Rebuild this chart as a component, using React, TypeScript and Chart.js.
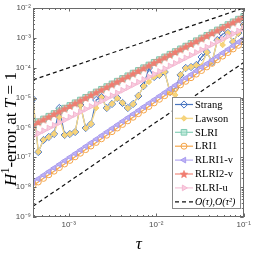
import React, { useEffect, useRef } from 'react';
import { Chart, registerables } from 'chart.js';
import { drawPoint } from 'chart.js/helpers';

Chart.register(...registerables);

// time steps tau (ascending)
const tau = [3.906e-4, 4.487e-4, 5.154e-4, 5.921e-4, 6.801e-4, 7.813e-4, 8.974e-4, 1.0309e-3, 1.1842e-3, 1.3602e-3,
  1.5625e-3, 1.7948e-3, 2.0617e-3, 2.3683e-3, 2.7205e-3, 3.125e-3, 3.5897e-3, 4.1235e-3, 4.7366e-3, 5.4409e-3,
  6.25e-3, 7.1794e-3, 8.2469e-3, 9.4732e-3, 1.08819e-2, 1.25e-2, 1.43587e-2, 1.64939e-2, 1.89465e-2, 2.17638e-2,
  2.5e-2, 2.87175e-2, 3.29877e-2, 3.78929e-2, 4.35275e-2, 5e-2, 5.74349e-2, 6.59754e-2, 7.57858e-2, 8.70551e-2, 0.1];

const strang = [8.96e-6, 1.50e-7, 3.79e-7, 4.79e-7, 6.03e-7, 4.48e-6, 5.58e-7, 6.03e-7, 7.03e-7, 5.64e-6,
  9.57e-7, 1.30e-6, 8.30e-6, 1.045e-5, 4.48e-6, 6.10e-6, 9.68e-6, 6.59e-6, 4.48e-6, 6.10e-6,
  1.13e-5, 2.44e-5, 9.80e-5, 4.89e-5, 5.70e-5, 7.19e-5, 1.54e-5, 2.09e-5, 5.70e-5, 9.80e-5,
  1.057e-4, 1.233e-4, 2.285e-4, 3.36e-4, 1.556e-4, 8.47e-4, 1.346e-3, 1.455e-3, 7.26e-4, 1.455e-3, 2.70e-3];

const lawson = [8.80e-6, 1.52e-7, 3.85e-7, 4.70e-7, 6.10e-7, 2.20e-6, 5.50e-7, 6.10e-7, 7.10e-7, 5.50e-6,
  9.40e-7, 1.32e-6, 4.50e-6, 1.02e-5, 4.40e-6, 6.20e-6, 9.50e-6, 6.70e-6, 4.40e-6, 6.00e-6,
  1.15e-5, 2.40e-5, 3.33e-5, 4.95e-5, 5.60e-5, 7.30e-5, 1.52e-5, 1.22e-5, 5.80e-5, 9.60e-5,
  1.07e-4, 1.21e-4, 1.14e-4, 3.30e-4, 1.58e-4, 8.30e-4, 5.77e-4, 1.43e-3, 7.40e-4, 1.43e-3, 2.65e-3];

const slri = [1.27e-6, 1.56e-6, 1.92e-6, 2.37e-6, 2.92e-6, 3.59e-6, 4.42e-6, 5.44e-6, 6.70e-6, 8.25e-6,
  1.016e-5, 1.250e-5, 1.539e-5, 1.895e-5, 2.333e-5, 2.873e-5, 3.537e-5, 4.354e-5, 5.360e-5, 6.600e-5,
  8.125e-5, 1.000e-4, 1.232e-4, 1.516e-4, 1.867e-4, 2.298e-4, 2.829e-4, 3.483e-4, 4.288e-4, 5.280e-4,
  6.500e-4, 8.003e-4, 9.852e-4, 1.213e-3, 1.493e-3, 1.838e-3, 2.263e-3, 2.787e-3, 3.431e-3, 4.224e-3, 5.20e-3];

const lri1 = [1.13e-8, 1.49e-8, 1.97e-8, 2.60e-8, 3.43e-8, 4.52e-8, 5.97e-8, 7.87e-8, 1.039e-7, 1.371e-7,
  1.809e-7, 2.387e-7, 3.150e-7, 4.157e-7, 5.484e-7, 7.236e-7, 9.55e-7, 1.260e-6, 1.662e-6, 2.193e-6,
  2.895e-6, 3.820e-6, 5.040e-6, 6.650e-6, 8.775e-6, 1.158e-5, 1.528e-5, 2.016e-5, 2.660e-5, 3.510e-5,
  4.631e-5, 6.111e-5, 8.065e-5, 1.064e-4, 1.404e-4, 1.853e-4, 2.445e-4, 3.225e-4, 4.256e-4, 5.616e-4, 7.41e-4];

const rlri1v = [1.45e-8, 1.91e-8, 2.52e-8, 3.33e-8, 4.39e-8, 5.80e-8, 7.65e-8, 1.01e-7, 1.33e-7, 1.76e-7,
  2.32e-7, 3.06e-7, 4.04e-7, 5.33e-7, 7.03e-7, 9.28e-7, 1.224e-6, 1.615e-6, 2.131e-6, 2.812e-6,
  3.711e-6, 4.897e-6, 6.461e-6, 8.525e-6, 1.125e-5, 1.484e-5, 1.959e-5, 2.585e-5, 3.41e-5, 4.50e-5,
  5.94e-5, 7.835e-5, 1.034e-4, 1.364e-4, 1.80e-4, 2.375e-4, 3.134e-4, 4.135e-4, 5.456e-4, 7.20e-4, 9.50e-4];

const rlri2v = [1.221e-6, 1.503e-6, 1.850e-6, 2.278e-6, 2.804e-6, 3.453e-6, 4.251e-6, 5.233e-6, 6.443e-6, 7.932e-6,
  9.766e-6, 1.2023e-5, 1.4802e-5, 1.8223e-5, 2.2435e-5, 2.762e-5, 3.4006e-5, 4.1866e-5, 5.1543e-5, 6.3457e-5,
  7.8125e-5, 9.618e-5, 1.1842e-4, 1.4578e-4, 1.7948e-4, 2.2097e-4, 2.7205e-4, 3.3493e-4, 4.1234e-4, 5.0766e-4,
  6.25e-4, 7.695e-4, 9.473e-4, 1.1663e-3, 1.4359e-3, 1.7678e-3, 2.1764e-3, 2.6795e-3, 3.2988e-3, 4.0613e-3, 5.0e-3];

const rlriu = [5.13e-7, 6.31e-7, 7.77e-7, 9.57e-7, 1.178e-6, 1.450e-6, 1.785e-6, 2.198e-6, 2.706e-6, 3.331e-6,
  4.102e-6, 5.050e-6, 6.217e-6, 7.654e-6, 9.423e-6, 1.160e-5, 1.428e-5, 1.758e-5, 2.165e-5, 2.665e-5,
  3.281e-5, 4.040e-5, 4.974e-5, 6.123e-5, 7.538e-5, 9.281e-5, 1.143e-4, 1.407e-4, 1.732e-4, 2.132e-4,
  2.625e-4, 3.232e-4, 3.979e-4, 4.898e-4, 6.031e-4, 7.425e-4, 9.141e-4, 1.1254e-3, 1.3855e-3, 1.7057e-3, 2.100e-3];

// reference slopes
const refTau = [3.906e-4, 0.1];
const refOrder1 = [3.9e-5, 1e-2];
const refOrder2 = [2.3e-9, 1.5e-4];

const xTickValues = [1e-3, 1e-2, 1e-1];
const xTickLabels = ['10⁻³', '10⁻²', '10⁻¹'];
const yTickValues = [1e-9, 1e-8, 1e-7, 1e-6, 1e-5, 1e-4, 1e-3, 1e-2];
const yTickLabels = ['10⁻⁹', '10⁻⁸', '10⁻⁷', '10⁻⁶', '10⁻⁵', '10⁻⁴', '10⁻³', '10⁻²'];

const seriesNames = ['Strang', 'Lawson', 'SLRI', 'LRI1', 'RLRI1-v', 'RLRI2-v', 'RLRI-u'];
const refName = 'O(τ),O(τ²)';

const AXIS = '#6a6a6a';
const TICK_TEXT = '#4a4a4a';
const SERIF = '"Liberation Serif", "Times New Roman", serif';

function makeStar(color: string, r: number): HTMLCanvasElement {
  const c = document.createElement('canvas');
  const size = Math.ceil(r * 2 + 2);
  c.width = size;
  c.height = size;
  const g = c.getContext('2d')!;
  g.beginPath();
  for (let i = 0; i < 10; i++) {
    const ang = -Math.PI / 2 + (i * Math.PI) / 5;
    const rr = i % 2 === 0 ? r : r * 0.45;
    const px = size / 2 + rr * Math.cos(ang);
    const py = size / 2 + rr * Math.sin(ang) + 0.4;
    if (i === 0) g.moveTo(px, py);
    else g.lineTo(px, py);
  }
  g.closePath();
  g.fillStyle = color;
  g.fill();
  g.strokeStyle = color;
  g.lineWidth = 0.6;
  g.stroke();
  return c;
}

const decorPlugin = {
  id: 'decor',
  afterDraw(chart: any) {
    const { ctx, chartArea: a, scales } = chart;
    const xs = scales.x;
    const ys = scales.y;
    ctx.save();
    // box
    ctx.strokeStyle = AXIS;
    ctx.lineWidth = 1;
    ctx.setLineDash([]);
    ctx.strokeRect(Math.round(a.left) + 0.5, Math.round(a.top) + 0.5, Math.round(a.right - a.left) - 1, Math.round(a.bottom - a.top) - 1);
    // ticks inside
    ctx.beginPath();
    for (let e = -4; e <= -1; e++) {
      for (let m = 1; m <= 9; m++) {
        const v = m * Math.pow(10, e);
        if (v < xs.min * 0.999 || v > xs.max * 1.001) continue;
        const px = Math.round(xs.getPixelForValue(v)) + 0.5;
        const len = m === 1 ? 3.5 : 2;
        ctx.moveTo(px, a.bottom);
        ctx.lineTo(px, a.bottom - len);
        ctx.moveTo(px, a.top);
        ctx.lineTo(px, a.top + len);
      }
    }
    for (let e = -9; e <= -2; e++) {
      for (let m = 1; m <= 9; m++) {
        const v = m * Math.pow(10, e);
        if (v < ys.min * 0.999 || v > ys.max * 1.001) continue;
        const py = Math.round(ys.getPixelForValue(v)) + 0.5;
        const len = m === 1 ? 3.5 : 2;
        ctx.moveTo(a.left, py);
        ctx.lineTo(a.left + len, py);
        ctx.moveTo(a.right, py);
        ctx.lineTo(a.right - len, py);
      }
    }
    ctx.stroke();

    // legend
    const lw = 69;
    const lh = 112;
    const lx = Math.round(a.right) - 72;
    const ly = Math.round(a.bottom) - 120;
    ctx.fillStyle = '#ffffff';
    ctx.fillRect(lx, ly, lw, lh);
    ctx.strokeStyle = '#8a8a8a';
    ctx.lineWidth = 1;
    ctx.strokeRect(lx + 0.5, ly + 0.5, lw - 1, lh - 1);
    const items = chart.data.datasets.filter((d: any) => d.inLegend !== false);
    items.sort((p: any, q: any) => p.legendIndex - q.legendIndex);
    items.forEach((d: any, i: number) => {
      const cy = ly + 7.5 + i * 13.9;
      ctx.save();
      ctx.strokeStyle = d.borderColor;
      ctx.lineWidth = d.borderWidth;
      ctx.setLineDash(d.borderDash || []);
      ctx.beginPath();
      ctx.moveTo(lx + 3, cy);
      ctx.lineTo(lx + 21, cy);
      ctx.stroke();
      ctx.setLineDash([]);
      if (d.pointRadius > 0) {
        ctx.fillStyle = d.pointBackgroundColor;
        ctx.strokeStyle = d.pointBorderColor;
        ctx.lineWidth = d.pointBorderWidth;
        drawPoint(ctx, { pointStyle: d.pointStyle, rotation: d.pointRotation || 0, radius: d.pointRadius, borderWidth: d.pointBorderWidth } as any, lx + 12, cy);
      }
      ctx.restore();
      ctx.fillStyle = '#000';
      ctx.font = (d.legendItalic ? 'italic 10px ' : '10.5px ') + SERIF;
      ctx.textAlign = 'left';
      ctx.textBaseline = 'middle';
      ctx.fillText(d.label, lx + 23, cy + 0.5);
    });

    // y title
    ctx.save();
    ctx.translate(10, 129);
    ctx.rotate(-Math.PI / 2);
    ctx.fillStyle = '#000';
    ctx.textBaseline = 'alphabetic';
    ctx.textAlign = 'left';
    const fs = 17;
    const segs = [
      { t: 'H', f: `italic ${fs}px ${SERIF}`, dy: 0 },
      { t: '1', f: `${Math.round(fs * 0.68)}px ${SERIF}`, dy: -fs * 0.42 },
      { t: '-error at ', f: `${fs}px ${SERIF}`, dy: 0 },
      { t: 'T', f: `italic ${fs}px ${SERIF}`, dy: 0 },
      { t: ' = 1', f: `${fs}px ${SERIF}`, dy: 0 },
    ];
    let total = 0;
    segs.forEach((s) => { ctx.font = s.f; total += ctx.measureText(s.t).width; });
    let cx = -total / 2;
    segs.forEach((s) => {
      ctx.font = s.f;
      ctx.fillText(s.t, cx, 6 + s.dy);
      cx += ctx.measureText(s.t).width;
    });
    ctx.restore();

    // x title
    ctx.fillStyle = '#000';
    ctx.font = `italic 17px ${SERIF}`;
    ctx.textAlign = 'center';
    ctx.textBaseline = 'alphabetic';
    ctx.fillText('τ', (a.left + a.right) / 2 + 0.5, 249);
    ctx.restore();
  },
};

function pts(ys: number[]) {
  return tau.map((t, i) => ({ x: t, y: ys[i] }));
}

export default function App() {
  const ref = useRef<HTMLCanvasElement>(null);
  useEffect(() => {
    const star = makeStar('#F07C70', 4);
    const base = { borderWidth: 1.2, tension: 0, fill: false, pointBorderWidth: 1 };
    const datasets: any[] = [
      { ...base, label: refName, legendItalic: true, legendIndex: 7, data: refTau.map((t, i) => ({ x: t, y: refOrder1[i] })), borderColor: '#111', borderDash: [4, 3], pointRadius: 0, order: 0 },
      { ...base, label: 'O(τ²)', inLegend: false, data: refTau.map((t, i) => ({ x: t, y: refOrder2[i] })), borderColor: '#111', borderDash: [4, 3], pointRadius: 0, order: 0 },
      { ...base, label: seriesNames[6], legendIndex: 6, data: pts(rlriu), borderColor: '#F7C3D8', pointStyle: 'triangle', pointRotation: 90, pointRadius: 3.3, pointBackgroundColor: '#F9CCDF', pointBorderColor: '#F4B8D1', order: 1 },
      { ...base, label: seriesNames[5], legendIndex: 5, data: pts(rlri2v), borderColor: '#F08A7E', pointStyle: star, pointRadius: 3.5, pointBackgroundColor: '#F07C70', pointBorderColor: '#F07C70', order: 2 },
      { ...base, label: seriesNames[4], legendIndex: 4, data: pts(rlri1v), borderColor: '#B5AAF3', pointStyle: 'triangle', pointRotation: -90, pointRadius: 3.3, pointBackgroundColor: '#BDB2F6', pointBorderColor: '#A99CEF', order: 3 },
      { ...base, label: seriesNames[3], legendIndex: 3, data: pts(lri1), borderColor: '#F6A84E', pointStyle: 'circle', pointRadius: 3, pointBackgroundColor: 'rgba(255,255,255,0)', pointBorderColor: '#F5A447', order: 4 },
      { ...base, label: seriesNames[2], legendIndex: 2, data: pts(slri), borderColor: '#86CFB7', pointStyle: 'rect', pointRadius: 4, pointBackgroundColor: 'rgba(170,225,205,0.7)', pointBorderColor: '#7FCBB2', order: 5 },
      { ...base, label: seriesNames[1], legendIndex: 1, data: pts(lawson), borderColor: '#F5D98E', borderWidth: 1.4, pointStyle: 'rectRot', pointRadius: 2.8, pointBackgroundColor: '#F7D47C', pointBorderColor: '#F2CB66', pointBorderWidth: 0.8, order: 6 },
      { ...base, label: seriesNames[0], legendIndex: 0, data: pts(strang), borderColor: '#4A76BE', pointStyle: 'rectRot', pointRadius: 3.6, pointBackgroundColor: 'rgba(255,255,255,0)', pointBorderColor: '#4472C4', order: 7 },
    ];
    const tickFont = { family: '"Liberation Sans", Arial, sans-serif', size: 8 };
    const chart = new Chart(ref.current!, {
      type: 'line',
      data: { datasets },
      options: {
        responsive: true,
        maintainAspectRatio: false,
        animation: false,
        layout: { padding: { top: 8, right: 7, left: 0, bottom: 0 } },
        plugins: { legend: { display: false }, tooltip: { enabled: false } },
        scales: {
          x: {
            type: 'logarithmic',
            min: tau[0],
            max: 0.1,
            grid: { display: false, drawTicks: false },
            border: { display: false },
            ticks: {
              autoSkip: false,
              maxRotation: 0,
              padding: 3,
              font: tickFont,
              color: TICK_TEXT,
              callback: (v: any) => {
                const i = xTickValues.findIndex((t) => Math.abs(Math.log10(t) - Math.log10(Number(v))) < 1e-6);
                return i >= 0 ? xTickLabels[i] : '';
              },
            },
            afterBuildTicks: (s: any) => { s.ticks = xTickValues.map((v) => ({ value: v })); },
            afterFit: (s: any) => { s.height = 38; },
          },
          y: {
            type: 'logarithmic',
            min: 1e-9,
            max: 1e-2,
            grid: { display: false, drawTicks: false },
            border: { display: false },
            ticks: {
              autoSkip: false,
              padding: 2,
              font: tickFont,
              color: TICK_TEXT,
              callback: (v: any) => {
                const i = yTickValues.findIndex((t) => Math.abs(Math.log10(t) - Math.log10(Number(v))) < 1e-6);
                return i >= 0 ? yTickLabels[i] : '';
              },
            },
            afterBuildTicks: (s: any) => { s.ticks = yTickValues.map((v) => ({ value: v })); },
            afterFit: (s: any) => { s.width = 33; },
          },
        },
      } as any,
      plugins: [decorPlugin],
    });
    return () => chart.destroy();
  }, []);
  return (
    <div style={{ position: 'absolute', left: 0, top: 0, width: 254, height: 255 }}>
      <canvas ref={ref} />
    </div>
  );
}
